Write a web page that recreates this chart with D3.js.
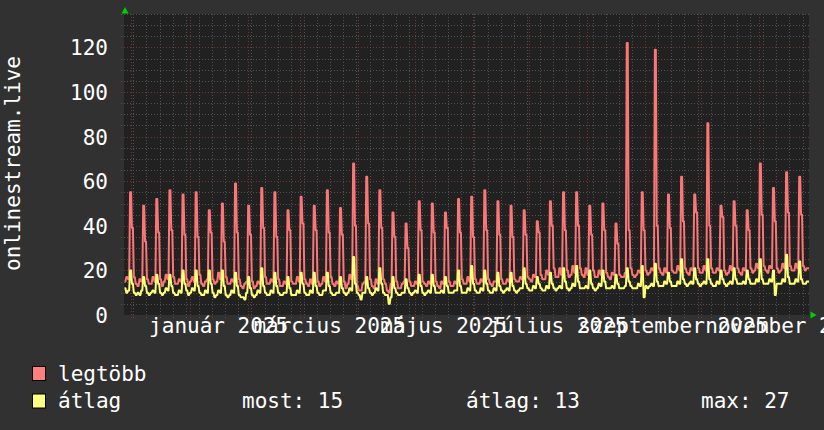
<!DOCTYPE html>
<html>
<head>
<meta charset="utf-8">
<script src="https://cdn.jsdelivr.net/npm/d3@7"></script>
<style>
  html, body { margin: 0; padding: 0; background: #313131; }
  svg { display: block; }
  text { font-family: "DejaVu Sans Mono", monospace; fill: #ffffff; }
</style>
</head>
<body>
<svg id="chart" width="824" height="430"></svg>
<script>
// ---------------- DATA ----------------
const startDate = Date.UTC(2024, 10, 27);   // first daily sample (2024-11-27)
const endDate = Date.UTC(2025, 10, 28);     // end of the time axis

// daily maximum ("legtöbb"), one row per week
const legtobb = [
  15, 17, 16, 55, 39, 17, 14,
  13, 16, 15, 49, 33, 16, 14,
  14, 17, 15, 52, 37, 16, 13,
  15, 18, 16, 56, 38, 17, 14,
  14, 16, 15, 54, 36, 16, 13,
  15, 17, 15, 55, 35, 18, 14,
  13, 15, 16, 47, 37, 16, 14,
  15, 19, 16, 50, 33, 17, 14,
  14, 16, 15, 59, 37, 16, 13,
  12, 14, 15, 49, 36, 15, 12,
  13, 15, 14, 57, 39, 17, 14,
  14, 16, 15, 55, 35, 16, 13,
  13, 15, 14, 47, 38, 15, 14,
  14, 17, 15, 53, 41, 16, 14,
  13, 16, 14, 49, 38, 15, 13,
  14, 17, 15, 56, 37, 17, 14,
  13, 15, 14, 48, 36, 15, 12,
  14, 18, 16, 68, 40, 13, 11,
  11, 14, 15, 62, 41, 16, 13,
  12, 16, 14, 56, 39, 16, 14,
  11, 10, 14, 46, 35, 15, 12,
  12, 14, 15, 41, 30, 15, 13,
  13, 15, 14, 51, 38, 15, 14,
  13, 15, 14, 50, 37, 15, 13,
  12, 15, 14, 46, 39, 15, 13,
  13, 15, 14, 52, 37, 16, 14,
  14, 17, 15, 53, 35, 16, 14,
  14, 16, 15, 56, 38, 16, 14,
  13, 15, 15, 51, 36, 16, 14,
  14, 16, 15, 49, 35, 16, 15,
  15, 17, 16, 47, 36, 17, 16,
  15, 18, 17, 42, 37, 18, 16,
  16, 20, 18, 51, 40, 21, 17,
  17, 21, 18, 55, 38, 20, 17,
  18, 22, 19, 55, 40, 21, 18,
  17, 21, 18, 49, 36, 20, 17,
  17, 20, 18, 50, 38, 19, 17,
  16, 19, 18, 41, 32, 18, 17,
  17, 19, 122, 38, 21, 18, 17,
  18, 20, 19, 55, 38, 20, 18,
  19, 21, 20, 119, 40, 21, 19,
  18, 21, 19, 54, 39, 20, 19,
  19, 22, 20, 62, 42, 21, 19,
  18, 21, 20, 54, 46, 21, 19,
  19, 22, 20, 86, 40, 21, 19,
  19, 21, 20, 49, 44, 20, 18,
  19, 22, 20, 51, 40, 21, 19,
  18, 21, 20, 47, 38, 21, 19,
  20, 23, 21, 68, 45, 22, 20,
  19, 22, 21, 57, 42, 21, 19,
  20, 23, 21, 64, 46, 22, 20,
  20, 23, 21, 62, 45, 22, 20,
  21, 21
];

// daily average ("átlag"), one row per week
const atlag = [
  12, 10, 11, 20, 14, 10, 9,
  10, 9, 11, 17, 13, 10, 9,
  10, 11, 10, 18, 14, 10, 9,
  10, 12, 11, 18, 13, 10, 9,
  9, 11, 10, 20, 14, 11, 9,
  10, 12, 11, 20, 13, 10, 9,
  9, 11, 10, 20, 14, 10, 8,
  9, 11, 10, 20, 13, 9, 8,
  9, 11, 10, 19, 13, 9, 8,
  8, 7, 10, 17, 12, 9, 8,
  9, 11, 10, 21, 13, 10, 9,
  9, 11, 10, 19, 13, 10, 9,
  9, 10, 10, 17, 12, 9, 9,
  9, 11, 10, 19, 14, 10, 9,
  9, 11, 10, 19, 13, 10, 9,
  9, 11, 11, 19, 13, 10, 9,
  9, 10, 10, 17, 12, 10, 9,
  10, 12, 11, 26, 14, 10, 9,
  7, 10, 10, 17, 12, 10, 9,
  10, 12, 11, 21, 14, 10, 9,
  9, 5, 8, 17, 12, 10, 9,
  9, 10, 10, 16, 12, 10, 9,
  10, 11, 10, 18, 13, 10, 9,
  10, 11, 10, 18, 13, 10, 10,
  10, 11, 10, 17, 13, 10, 10,
  10, 11, 11, 20, 13, 10, 10,
  10, 12, 11, 22, 14, 11, 10,
  10, 12, 11, 20, 14, 11, 10,
  10, 12, 11, 19, 13, 11, 10,
  11, 12, 11, 19, 13, 11, 10,
  11, 12, 12, 21, 14, 12, 11,
  11, 13, 12, 17, 14, 12, 11,
  11, 13, 12, 19, 14, 12, 11,
  12, 13, 12, 21, 15, 12, 11,
  12, 14, 13, 22, 15, 12, 12,
  12, 13, 12, 20, 14, 12, 11,
  12, 14, 13, 20, 15, 12, 12,
  12, 13, 12, 18, 14, 12, 12,
  12, 13, 21, 15, 13, 12, 12,
  12, 14, 13, 22, 8, 13, 12,
  13, 14, 13, 23, 15, 13, 13,
  13, 15, 14, 19, 15, 13, 13,
  13, 15, 14, 25, 16, 14, 13,
  14, 15, 14, 21, 16, 14, 13,
  14, 15, 14, 25, 16, 14, 13,
  13, 15, 14, 20, 16, 14, 13,
  14, 15, 14, 21, 16, 14, 14,
  14, 15, 14, 20, 16, 14, 14,
  14, 16, 15, 25, 16, 14, 14,
  14, 16, 15, 20, 9, 14, 14,
  14, 16, 15, 27, 17, 14, 14,
  14, 16, 15, 24, 16, 14, 14,
  15, 15
];

const monthNames = ["január", "február", "március", "április", "május", "június",
  "július", "augusztus", "szeptember", "október", "november", "december"];
const yTickValues = [0, 20, 40, 60, 80, 100, 120];
const yAxisTitle = "onlinestream.live";
const legendItems = [
  { label: "legtöbb", color: "#ff7f7f" },
  { label: "átlag", color: "#ffff7f" }
];
const legendStats = ["most: 15", "átlag: 13", "max: 27"];

// ---------------- LAYOUT ----------------
const plot = { left: 124, right: 809, top: 14, bottom: 315 };
const svg = d3.select("#chart");
const FONT = 21;

svg.append("rect").attr("width", 824).attr("height", 430).attr("fill", "#313131");
svg.append("rect")
  .attr("x", plot.left).attr("y", plot.top)
  .attr("width", plot.right - plot.left).attr("height", plot.bottom - plot.top)
  .attr("fill", "#212121");

const x = d3.scaleUtc().domain([new Date(startDate), new Date(endDate)]).range([124, 810]);
const y = d3.scaleLinear().domain([0, 135]).range([plot.bottom, plot.top]);

const days = legtobb.map((_, i) => d3.utcDay.offset(new Date(startDate), i));

// ---------------- GRID ----------------
const grid = svg.append("g");
const minorCol = "#525252", majorCol = "#743434";

d3.range(5, 136, 5).forEach(v => {
  const major = v % 20 === 0;
  grid.append("line")
    .attr("x1", plot.left - 3).attr("x2", plot.right)
    .attr("y1", Math.round(y(v)) + 0.5).attr("y2", Math.round(y(v)) + 0.5)
    .attr("stroke", major ? majorCol : minorCol)
    .attr("stroke-dasharray", "1,2");
});
const xDom = x.domain();
const monthStarts = d3.utcMonth.range(xDom[0], xDom[1]).map(d => +d);
d3.utcMonday.range(xDom[0], xDom[1]).forEach(d => {
  const px = Math.round(x(d)) + 0.5;
  if (px > plot.right) return;
  grid.append("line")
    .attr("x1", px).attr("x2", px)
    .attr("y1", plot.top).attr("y2", plot.bottom + 3)
    .attr("stroke", minorCol).attr("stroke-dasharray", "1,2");
});
d3.utcMonth.range(xDom[0], xDom[1]).forEach(d => {
  const px = Math.round(x(d)) + 0.5;
  if (px > plot.right) return;
  grid.append("line")
    .attr("x1", px).attr("x2", px)
    .attr("y1", plot.top).attr("y2", plot.bottom + 3)
    .attr("stroke", majorCol).attr("stroke-dasharray", "1,2");
});

// ---------------- AXES LABELS ----------------
svg.append("g").selectAll("text").data(yTickValues).join("text")
  .attr("x", 108).attr("y", d => y(d) + 8)
  .attr("text-anchor", "end").attr("font-size", FONT)
  .text(d => d);

const labelMonths = d3.utcMonth.range(d3.utcMonth.ceil(xDom[0]), xDom[1])
  .filter(d => d.getUTCMonth() % 2 === 0);
svg.append("g").selectAll("text").data(labelMonths).join("text")
  .attr("x", d => (x(d) + x(d3.utcMonth.offset(d, 1))) / 2)
  .attr("y", 333)
  .attr("text-anchor", "middle").attr("font-size", FONT)
  .text(d => `${monthNames[d.getUTCMonth()]} ${d.getUTCFullYear()}`);

svg.append("text")
  .attr("transform", "translate(20,163.5) rotate(-90)")
  .attr("text-anchor", "middle").attr("font-size", FONT)
  .text(yAxisTitle);

// ---------------- LINES ----------------
svg.append("clipPath").attr("id", "clip").append("rect")
  .attr("x", plot.left).attr("y", plot.top)
  .attr("width", plot.right - plot.left).attr("height", plot.bottom - plot.top);

// each daily sample is held across its day column (rrdtool-like rendering)
const lineGen = arr => {
  const pts = [];
  arr.forEach((v, i) => {
    const x0 = x(days[i]), x1 = x(d3.utcDay.offset(days[i], 1));
    pts.push([x0 + 0.45, y(v)], [x1 - 0.45, y(v)]);
  });
  return d3.line()(pts);
};

const lines = svg.append("g").attr("clip-path", "url(#clip)");
lines.append("path").attr("d", lineGen(legtobb))
  .attr("fill", "none").attr("stroke", "#fb7676").attr("stroke-width", 2)
  .attr("stroke-linejoin", "round");
lines.append("path").attr("d", lineGen(atlag))
  .attr("fill", "none").attr("stroke", "#ffff78").attr("stroke-width", 2)
  .attr("stroke-linejoin", "round");

// ---------------- ARROWS ----------------
svg.append("path").attr("d", "M121.5,13.5 L125,7 L128.5,13.5 Z").attr("fill", "#00d000");
svg.append("path").attr("d", "M810.5,311.5 L816.5,315 L810.5,318.5 Z").attr("fill", "#00d000");

// ---------------- LEGEND ----------------
const legend = svg.append("g");
legendItems.forEach((item, i) => {
  const yy = 366 + i * 27.5;
  legend.append("rect")
    .attr("x", 32.5).attr("y", yy + 0.5).attr("width", 13).attr("height", 14)
    .attr("fill", item.color).attr("stroke", "#000").attr("stroke-width", 1);
  legend.append("text")
    .attr("x", 58).attr("y", yy + 14.5).attr("font-size", FONT)
    .text(item.label);
});
[242, 466, 701].forEach((px, i) => {
  legend.append("text")
    .attr("x", px).attr("y", 408).attr("font-size", FONT)
    .text(legendStats[i]);
});
</script>
</body>
</html>
